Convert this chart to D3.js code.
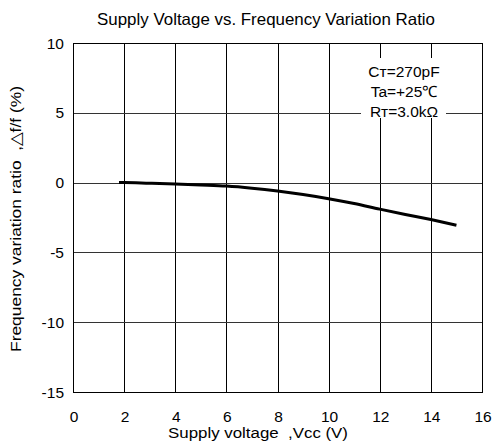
<!DOCTYPE html>
<html><head><meta charset="utf-8">
<script src="https://cdn.jsdelivr.net/npm/d3@7"></script>
<style>body{margin:0;background:#fff}text{font-family:"Liberation Sans",Arial,sans-serif;fill:#000;white-space:pre}</style>
</head><body><svg id="c" width="498" height="445"></svg>
<script>
const voltage = [1.8, 2, 3, 4, 5, 6, 7, 8, 9, 10, 11, 12, 13, 14, 15];
const ratio = [0, 0, -0.05, -0.1, -0.17, -0.25, -0.4, -0.6, -0.85, -1.15, -1.5, -1.9, -2.28, -2.65, -3.05];
const xTicks = [0, 2, 4, 6, 8, 10, 12, 14, 16];
const yTicks = [10, 5, 0, -5, -10, -15];
const notes = ["C\u1D1B=270pF", "Ta=+25\u2103", "R\u1D1B=3.0k\u03A9"];

const svg = d3.select("#c");
const L = 73, R = 482, T = 43, B = 392;
const x = d3.scaleLinear().domain([0, 16]).range([L, R]);
const y = d3.scaleLinear().domain([-15, 10]).range([B, T]);

const g = svg.append("g").attr("shape-rendering", "crispEdges");
g.selectAll(".vg").data(xTicks.slice(1, -1)).join("line")
  .attr("x1", d => Math.round(x(d)) + 0.5).attr("x2", d => Math.round(x(d)) + 0.5)
  .attr("y1", T).attr("y2", B).attr("stroke", "#000").attr("stroke-width", 1);
g.selectAll(".hg").data(yTicks.slice(1, -1)).join("line")
  .attr("y1", d => Math.round(y(d)) + 0.5).attr("y2", d => Math.round(y(d)) + 0.5)
  .attr("x1", L).attr("x2", R).attr("stroke", "#333").attr("stroke-width", 1);

// annotation box (white background)
svg.append("rect").attr("x", 361).attr("y", 58).attr("width", 85).attr("height", 60).attr("fill", "#fff");
svg.selectAll(".note").data(notes).join("text")
  .attr("x", 404).attr("y", (d, i) => 77 + i * 20)
  .attr("text-anchor", "middle").attr("font-size", 15.5).text(d => d);

svg.append("rect").attr("x", L + 0.5).attr("y", T + 0.5).attr("width", R - L).attr("height", B - T)
  .attr("fill", "none").attr("stroke", "#000").attr("stroke-width", 1.2).attr("shape-rendering", "crispEdges");

const pts = voltage.map((v, i) => [v, ratio[i]]);
svg.append("path").datum(pts)
  .attr("d", d3.line().x(d => x(d[0])).y(d => y(d[1])).curve(d3.curveMonotoneX))
  .attr("fill", "none").attr("stroke", "#000").attr("stroke-width", 3);

svg.selectAll(".xt").data(xTicks).join("text")
  .attr("x", d => x(d) + 1).attr("y", 422).attr("text-anchor", "middle").attr("font-size", 15.5).text(d => d);
svg.selectAll(".yt").data(yTicks).join("text")
  .attr("x", 64).attr("y", d => y(d)).attr("dy", "0.36em").attr("text-anchor", "end").attr("font-size", 15.5).text(d => d);

svg.append("text").attr("x", 168).attr("y", 438).attr("font-size", 15.5)
  .attr("textLength", 180).attr("lengthAdjust", "spacingAndGlyphs").text("Supply voltage  ,Vcc (V)");
svg.append("text").attr("transform", "translate(21,352) rotate(-90)")
  .attr("font-size", 15.5).attr("textLength", 266).attr("lengthAdjust", "spacingAndGlyphs")
  .text("Frequency variation ratio  ,\u25B3f/f (%)");
svg.append("text").attr("x", 97).attr("y", 25).attr("font-size", 16.5)
  .attr("textLength", 338).attr("lengthAdjust", "spacingAndGlyphs").text("Supply Voltage vs. Frequency Variation Ratio");
</script></body></html>
